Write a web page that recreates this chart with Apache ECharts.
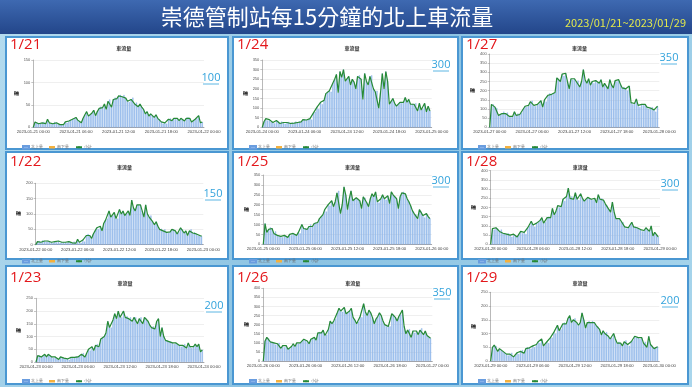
<!DOCTYPE html>
<html><head><meta charset="utf-8">
<script src="https://cdn.jsdelivr.net/npm/echarts@6/dist/echarts.min.js"></script>
<style>html,body{margin:0;padding:0;background:#9fd0ea;}#c{width:692px;height:387px;}</style>
</head><body><div id="c"></div><script>
// ---- data ----
const days = ['1/21','1/22','1/23','1/24','1/25','1/26','1/27','1/28','1/29'];
const isoDays = ['2023-01-21','2023-01-22','2023-01-23','2023-01-24','2023-01-25','2023-01-26','2023-01-27','2023-01-28','2023-01-29','2023-01-30'];
const yMax = [150,200,250,350,350,400,400,400,250];
const markLabels = ['100','150','200','300','300','350','350','300','200'];
const seriesNames = ['北上量','南下量','小計'];
const mainTitle = '崇德管制站每15分鐘的北上車流量';
const rangeText = '2023/01/21~2023/01/29';
const chartTitle = '車流量';
const yName = '輛';

const v0121 = [0,12,10,8, 8,10,12,8, 18,10,9,8, 12,10,7,6, 6,6,12,10, 14,16,18,20,
  22,16,14,10, 20,28,35,25, 28,32,38,26, 35,42,46,44, 52,40,58,62, 45,62,66,64,
  70,72,68,72, 65,58,56,62, 66,52,55,46, 52,45,40,30, 35,25,30,26, 22,28,20,18,
  12,8,10,8, 18,20,15,20, 18,20,15,20, 18,14,20,22, 20,12,14,18, 20,26,10,12];
const v0122 = [0,10,12,8, 14,12,10,12, 10,8,6,10, 8,12,6,8, 8,8,7,10, 8,6,10,5,
  18,8,6,15, 10,30,35,30, 20,35,45,55, 50,60,45,70, 80,85,110,90, 95,105,85,85,
  115,100,110,95, 100,110,95,145, 120,110,130,130, 130,110,90,130, 100,90,95,75, 65,75,60,50,
  52,45,50,40, 38,42,50,50, 45,35,40,55, 50,38,45,30, 45,50,38,40, 35,30,30,28];
const v0123 = [0,25,25,20, 25,30,20,30, 25,20,15,20, 15,10,20,18, 15,10,12,8, 18,20,18,22,
  20,25,30,35, 20,35,50,45, 60,45,65,70, 60,90,95,100, 115,160,135,135, 165,190,170,200,
  175,175,200,175, 180,170,175,160, 175,175,150,170, 175,150,175,170, 160,145,135,140, 130,160,170,100,
  135,100,85,85, 80,80,75,70, 75,70,65,60, 65,70,55,75, 60,55,60,70, 60,70,40,48];
const v0124 = [0,30,45,35, 40,30,25,20, 35,30,20,30, 25,18,25,28, 20,25,22,30, 25,30,28,40,
  42,38,40,45, 40,75,80,105, 95,130,120,140, 175,185,190,185, 230,250,275,180, 290,260,300,240,
  250,265,220,250, 235,200,265,270, 250,145,280,240, 220,265,270,200, 185,190,100,180, 280,200,290,240,
  120,135,150,125, 110,120,130,125, 130,155,130,145, 120,122,120,125, 85,125,90,95, 125,80,110,85];
const v0125 = [0,105,60,75, 85,80,55,65, 45,40,40,35, 45,40,35,50, 45,55,50,45, 60,55,100,80,
  80,75,90,100, 90,105,110,110, 130,140,150,175, 165,200,195,220, 190,215,260,270, 155,200,290,250,
  175,230,270,220, 230,235,230,220, 180,240,235,210, 190,230,255,240, 265,215,210,230, 250,230,225,245,
  205,265,250,240, 230,180,240,260, 265,255,230,215, 195,170,155,150, 130,175,165,145, 135,155,140,130];
const v0126 = [0,110,130,125, 105,105,100,90, 95,100,70,85, 75,85,65,70, 80,95,80,100, 95,100,110,120,
  115,110,95,120, 125,130,115,155, 160,155,170,140, 145,175,220,205, 220,230,265,290, 275,270,295,260,
  265,275,290,240, 225,205,215,245, 240,315,270,250, 280,265,240,205, 230,245,265,250, 220,200,190,190,
  190,260,255,240, 220,245,255,280, 190,150,170,175, 130,165,155,165, 145,170,180,145, 165,140,130,125];
const v0127 = [0,125,125,110, 105,65,70,75, 85,75,80,60, 55,60,85,65, 75,70,80,100, 115,110,120,140,
  145,120,115,125, 130,145,110,150, 140,175,185,180, 185,190,270,265, 250,290,280,295, 250,210,265,260,
  265,250,255,220, 250,315,260,240, 265,230,250,240, 255,245,240,260, 220,240,225,210, 260,230,215,255,
  250,260,235,215, 220,210,200,225, 135,125,130,155, 120,110,125,120, 125,110,100,105, 110,95,85,115];
const v0128 = [0,85,80,90, 85,70,80,60, 60,55,60,50, 40,55,50,40, 55,70,60,65, 55,90,100,125,
  105,95,115,120, 130,145,115,120, 145,150,145,195, 160,180,210,200, 205,245,235,260, 305,250,260,245,
  280,245,240,275, 250,235,245,255, 250,245,240,250, 225,270,245,250, 240,220,210,190, 175,230,175,140,
  135,140,125,120, 95,85,90,105, 120,95,95,90, 85,80,70,75, 90,80,70,100, 45,65,55,40];
const v0129 = [0,50,58,55, 35,45,40,35, 30,25,20,25, 30,15,20,30, 25,35,40,28, 45,50,48,45,
  55,50,60,70, 65,80,55,60, 70,65,85,85, 105,100,130,110, 115,135,140,135, 155,165,140,150,
  155,140,130,140, 175,150,120,140, 145,140,145,140, 130,125,115,95, 110,100,105,90, 80,85,100,80,
  65,70,65,55, 70,75,60,55, 70,75,90,85, 85,80,85,65, 70,50,90,60, 55,45,50,52];
const dayValues = [v0121,v0122,v0123,v0124,v0125,v0126,v0127,v0128,v0129];

// ---- layout ----
const colX = [[6,228],[233,458],[462,688]];
const rowY = [[37,149],[152,259],[266,384]];
// grid boxes: left,right,top,bottom
const gridBox = [
  [33.3,204,60,127.3],[35.7,203.3,183.3,244.7],[36,204,298.3,362],
  [262.3,431.7,60,127.3],[263.3,431.7,175,244.3],[263.3,432.3,288.3,361],
  [489.7,659.3,54,127.3],[490.7,660,170.7,244.3],[490.7,659.3,292.3,361]
];
const titleY = [43,162,278];
const legendY = [140,254,374];
const dateLabelY = [45,162,278];
const markPos = [[211,78],[213,194],[214,306],[441,65],[441,181],[442,293],[669,58],[670,184],[670,301]];

function pad(n){return (n<10?'0':'')+n;}
function cats(i){
  const out=[];
  for(let k=0;k<96;k++){out.push(isoDays[i]+' '+pad(Math.floor(k/4))+':'+pad((k%4)*15));}
  out.push(isoDays[i+1]+' 00:00');
  return out;
}

const grids=[],xAxes=[],yAxes=[],series=[],titles=[],legends=[],graphics=[];
graphics.push({type:'rect',shape:{x:0,y:0,width:692,height:387},style:{fill:new echarts.graphic.LinearGradient(0,0,1,1,[{offset:0,color:'#b5dcef'},{offset:0.5,color:'#8cc3e2'},{offset:1,color:'#a9d6ec'}])},z:-20});
graphics.push({type:'rect',shape:{x:0,y:0,width:692,height:34},style:{fill:new echarts.graphic.LinearGradient(0,0,0,1,[{offset:0,color:'#3e69b1'},{offset:1,color:'#23468a'}])},z:-19});
graphics.push({type:'text',x:327,y:17,style:{text:mainTitle,fill:'#ffffff',font:'22px "Noto Sans CJK TC"',textAlign:'center',textVerticalAlign:'middle'},z:50});
graphics.push({type:'text',x:686,y:23,style:{text:rangeText,fill:'#e2e84c',font:'11px "Noto Sans CJK TC"',textAlign:'right',textVerticalAlign:'middle'},z:50});

for(let i=0;i<9;i++){
  const col=Math.floor(i/3),row=i%3;
  const cx=colX[col],ry=rowY[row];
  graphics.push({type:'rect',shape:{x:cx[0],y:ry[0],width:cx[1]-cx[0],height:ry[1]-ry[0]},style:{fill:'#ffffff',stroke:'#4a97d2',lineWidth:2},z:-10});
  graphics.push({type:'text',x:cx[0]+4,y:dateLabelY[row],style:{text:days[i],fill:'#e3171b',font:'15px "Open Sans"',textVerticalAlign:'middle'},z:50});
  const mp=markPos[i];
  graphics.push({type:'text',x:mp[0],y:mp[1],style:{text:markLabels[i],fill:'#33a3dc',font:'11px "Open Sans"',textAlign:'center',textVerticalAlign:'middle'},z:50});
  graphics.push({type:'line',shape:{x1:mp[0]-8,y1:mp[1]+6,x2:mp[0]+8,y2:mp[1]+6},style:{stroke:'#33a3dc',lineWidth:0.8},z:50});

  const g=gridBox[i];
  grids.push({left:g[0],top:g[2],width:g[1]-g[0],height:g[3]-g[2],containLabel:false});
  titles.push({text:chartTitle,left:(g[0]+g[1])/2,top:titleY[row],textAlign:'center',textVerticalAlign:'middle',textStyle:{fontSize:5,fontWeight:'bold',color:'#333',fontFamily:'Noto Sans CJK TC'}});
  xAxes.push({type:'category',gridIndex:i,data:cats(i),boundaryGap:false,
    axisLine:{lineStyle:{color:'#6e7079',width:0.6}},axisTick:{show:false},
    axisLabel:{fontSize:4.2,color:'#444',margin:3,interval:function(idx){return idx%24===0;},formatter:function(v){return v;}},
    splitLine:{show:false}});
  yAxes.push({type:'value',gridIndex:i,min:0,max:yMax[i],interval:50,name:yName,nameLocation:'middle',nameRotate:0,nameGap:14,
    nameTextStyle:{fontSize:5,fontWeight:'bold',color:'#333'},
    axisLine:{show:true,lineStyle:{color:'#8a8a8a',width:0.6}},axisTick:{show:true,length:2,lineStyle:{color:'#8a8a8a',width:0.5}},
    axisLabel:{fontSize:4,color:'#555',margin:3},
    splitLine:{lineStyle:{color:'#e4e4e4',width:0.6}}});
  const vals=dayValues[i];
  series.push({name:seriesNames[0],type:'bar',xAxisIndex:i,yAxisIndex:i,stack:'s'+i,data:vals,barWidth:'62%',
    itemStyle:{color:'#a4c6f0',borderColor:'#6a9ddf',borderWidth:0.3},silent:true});
  series.push({name:seriesNames[1],type:'bar',xAxisIndex:i,yAxisIndex:i,stack:'s'+i,data:[],itemStyle:{color:'#f5b13d'}});
  series.push({name:seriesNames[2],type:'line',xAxisIndex:i,yAxisIndex:i,data:vals,symbol:'none',
    lineStyle:{color:'#278a36',width:1.2},itemStyle:{color:'#278a36'},z:5});
  legends.push({left:cx[0]+11,top:legendY[row],itemWidth:6,itemHeight:2.5,itemGap:6,textStyle:{fontSize:3.5,color:'#666',padding:[0,0,0,-3]},
    data:[{name:seriesNames[0],icon:'rect'},{name:seriesNames[1],icon:'rect'},{name:seriesNames[2]}]});
}

const chart=echarts.init(document.getElementById('c'),null,{renderer:'canvas'});
chart.setOption({animation:false,backgroundColor:'#9fd0ea',title:titles,legend:legends,grid:grids,xAxis:xAxes,yAxis:yAxes,series:series,graphic:{elements:graphics}});
</script></body></html>
